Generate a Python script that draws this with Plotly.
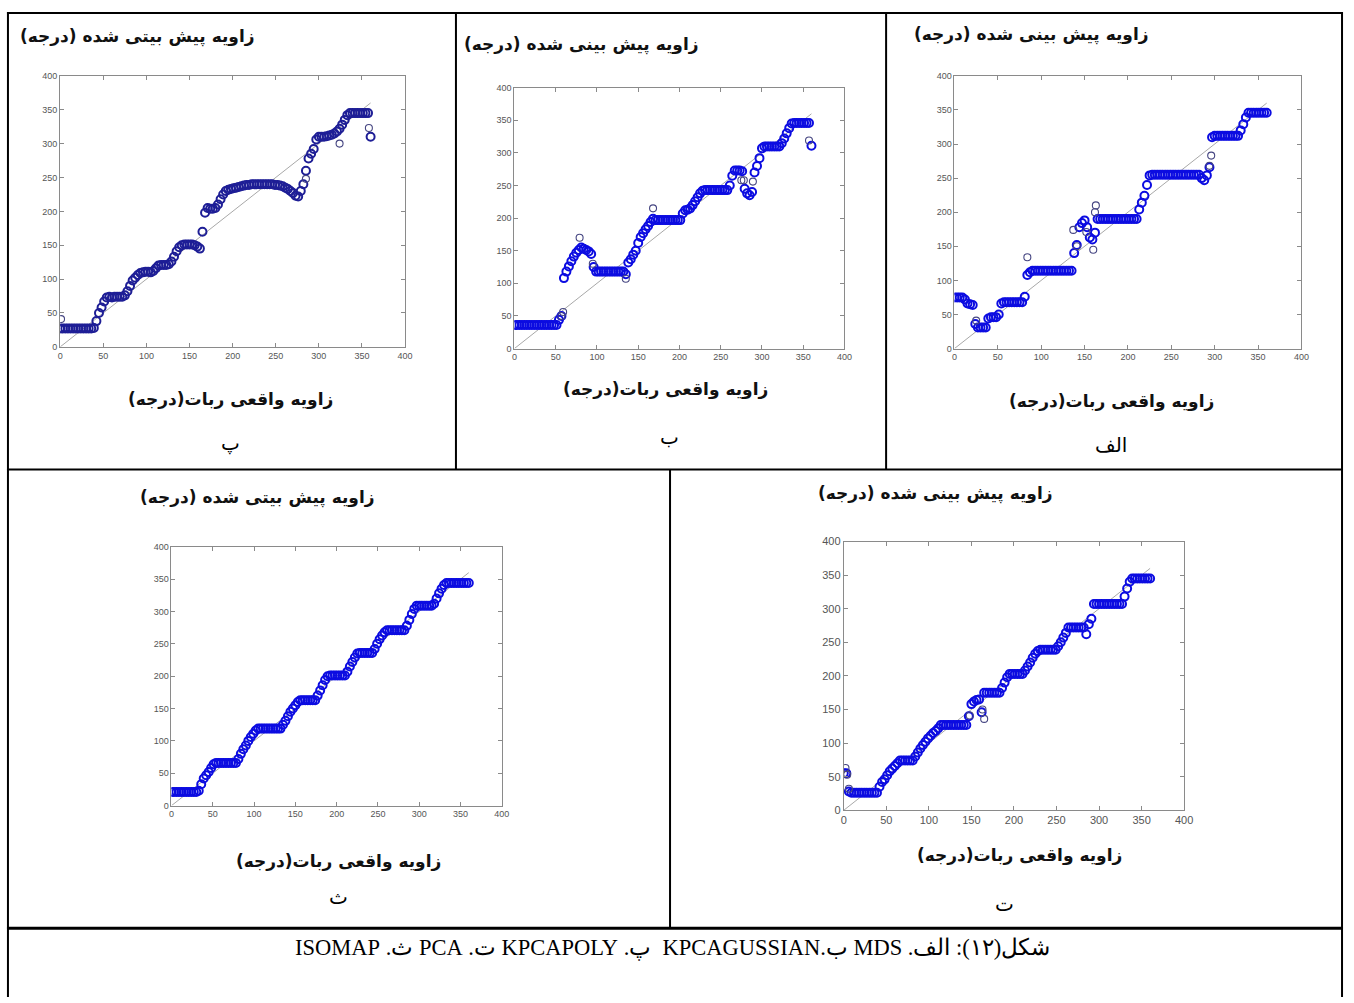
import plotly.graph_objects as go

W, H = 1354, 1003

# ---------------- data ----------------
true_angle = [0, 3, 6, 9, 12, 15, 18, 21, 24, 27, 30, 33, 36, 39, 42, 45, 48, 51, 54, 57,
              60, 63, 66, 69, 72, 75, 78, 81, 84, 87, 90, 93, 96, 99, 102, 105, 108, 111, 114, 117,
              120, 123, 126, 129, 132, 135, 138, 141, 144, 147, 150, 153, 156, 159, 162, 165, 168, 171, 174, 177,
              180, 183, 186, 189, 192, 195, 198, 201, 204, 207, 210, 213, 216, 219, 222, 225, 228, 231, 234, 237,
              240, 243, 246, 249, 252, 255, 258, 261, 264, 267, 270, 273, 276, 279, 282, 285, 288, 291, 294, 297,
              300, 303, 306, 309, 312, 315, 318, 321, 324, 327, 330, 333, 336, 339, 342, 345, 348, 351, 354, 357,
              360]

# panel پ  KPCAPOLY
pred_kpcapoly = [27, 27, 27, 27, 27, 27, 27, 27, 27, 27,
                 27, 27, 27, 28, 38, 50, 58, 67, 73, 74,
                 73, 74, 74, 74, 74, 76, 82, 90, 98, 102,
                 106, 109, 110, 111, 111, 110, 112, 116, 120, 121,
                 121, 121, 122, 126, 133, 141, 147, 150, 151, 151,
                 151, 151, 150, 148, 145, 170, 198, 205, 204, 204,
                 205, 210, 218, 225, 230, 232, 233, 234, 235, 236,
                 237, 238, 239, 239, 240, 240, 240, 240, 240, 240,
                 240, 240, 240, 239, 239, 238, 237, 235, 233, 230,
                 227, 223, 222, 230, 240, 260, 278, 285, 292, 306,
                 310, 310, 310, 311, 312, 313, 315, 318, 322, 328,
                 335, 342, 345, 345, 345, 345, 345, 345, 345, 345,
                 310]
out_x_kpcapoly = [1, 285, 324, 358]
out_y_kpcapoly = [41, 248, 300, 323]

# panel ب  KPCAGUSSIAN
pred_kpcagauss = [36, 36, 36, 36, 36, 36, 36, 36, 36, 36,
                  36, 36, 36, 36, 36, 36, 36, 36, 44, 50,
                  108, 118, 126, 134, 141, 147, 151, 155, 153, 151,
                  149, 145, 125, 118, 118, 118, 118, 118, 118, 118,
                  118, 118, 118, 118, 118, 114, 132, 137, 144, 150,
                  162, 171, 177, 183, 188, 194, 199, 197, 197, 197,
                  197, 197, 197, 197, 197, 197, 197, 197, 207, 212,
                  213, 215, 220, 226, 232, 238, 242, 243, 243, 243,
                  243, 243, 243, 243, 243, 243, 243, 250, 265, 273,
                  273, 273, 272, 245, 238, 235, 240, 270, 280, 292,
                  307, 310, 310, 310, 310, 310, 310, 310, 315, 322,
                  330, 338, 345, 346, 346, 346, 346, 346, 346, 346,
                  311]
out_x_kpcagauss = [57, 59, 79, 95, 135, 168, 275, 278, 289, 357]
out_y_kpcagauss = [50, 56, 170, 130, 107, 215, 258, 258, 256, 319]

# panel الف  MDS
pred_mds = [75, 75, 75, 75, 72, 66, 65, 64, 36, 31,
            31, 31, 31, 44, 46, 46, 46, 50, 66, 68,
            68, 68, 68, 68, 68, 68, 68, 76, 108, 112,
            114, 114, 114, 114, 114, 114, 114, 114, 114, 114,
            114, 114, 114, 114, 114, 114, 140, 152, 178, 184,
            188, 178, 163, 160, 170, 190, 190, 190, 190, 190,
            190, 190, 190, 190, 190, 190, 190, 190, 190, 190,
            190, 204, 214, 224, 240, 254, 255, 255, 255, 255,
            255, 255, 255, 255, 255, 255, 255, 255, 255, 255,
            255, 255, 255, 255, 255, 250, 247, 254, 266, 310,
            312, 312, 312, 312, 312, 312, 312, 312, 312, 312,
            320, 329, 339, 346, 346, 346, 346, 346, 346, 346,
            346]
out_x_mds = [25, 84, 137, 141, 152, 160, 162, 163, 294, 296]
out_y_mds = [41, 134, 174, 150, 171, 145, 200, 210, 268, 283]

# panel ث  ISOMAP
pred_isomap = [21, 21, 21, 21, 21, 21, 21, 21, 21, 21,
               21, 23, 33, 42, 47, 52, 58, 64, 66, 66,
               66, 66, 66, 66, 66, 66, 66, 72, 80, 87,
               93, 100, 106, 111, 116, 119, 119, 119, 119, 119,
               119, 119, 119, 119, 119, 125, 131, 138, 145, 150,
               155, 160, 163, 163, 163, 163, 163, 163, 163, 170,
               178, 186, 194, 200, 201, 201, 201, 201, 201, 201,
               201, 207, 215, 222, 229, 235, 236, 236, 236, 236,
               236, 236, 242, 250, 257, 263, 268, 271, 271, 271,
               271, 271, 271, 271, 271, 278, 287, 296, 304, 309,
               309, 309, 309, 309, 309, 309, 312, 320, 328, 335,
               341, 344, 344, 344, 344, 344, 344, 344, 344, 344,
               344]
out_x_isomap = []
out_y_isomap = []

# panel ت  PCA
pred_pca = [55, 55, 28, 26, 26, 26, 26, 26, 26, 26,
            26, 26, 26, 26, 35, 42, 46, 52, 58, 62,
            66, 70, 74, 74, 74, 74, 74, 74, 80, 86,
            92, 97, 102, 107, 111, 115, 118, 122, 127, 127,
            127, 127, 127, 127, 127, 127, 127, 127, 127, 140,
            158, 162, 164, 165, 146, 175, 175, 175, 175, 175,
            175, 175, 182, 190, 198, 203, 203, 203, 203, 203,
            203, 208, 214, 220, 227, 233, 237, 239, 239, 239,
            239, 239, 239, 239, 244, 250, 257, 264, 272, 272,
            272, 272, 272, 272, 272, 262, 277, 285, 307, 307,
            307, 307, 307, 307, 307, 307, 307, 307, 307, 307,
            318, 330, 340, 345, 345, 345, 345, 345, 345, 345,
            345]
out_x_pca = [2, 4, 6, 148, 163, 165]
out_y_pca = [63, 53, 32, 141, 150, 136]

ideal_x = [0, 360]
ideal_y = [0, 360]
tick_vals = [0, 50, 100, 150, 200, 250, 300, 350, 400]
tick_text = ["0", "50", "100", "150", "200", "250", "300", "350", "400"]

y_title_poly = "زاویه پیش بیتی شده (درجه)"
y_title = "زاویه پیش بینی شده (درجه)"
x_title = "زاویه واقعی ربات(درجه)"
caption = "شکل(۱۲): الف. MDS ب.KPCAGUSSIAN  پ. KPCAPOLY ت. PCA ث. ISOMAP"

RLE, PDF = "\u202b", "\u202c"


def rtl(s):
    return RLE + s + PDF


def px(x):
    return x / W


def py(y):
    return 1 - y / H


panels = [
    dict(name="پ", box=(57.7, 70.7, 405.7, 345.0), y=pred_kpcapoly, ox=out_x_kpcapoly, oy=out_y_kpcapoly,
         ytitle=y_title_poly, tpos=(136, 31), xpos=(230, 398), lpos=(230, 442), tick=9,
         color="rgb(30,30,150)"),
    dict(name="ب", box=(516.0, 82.7, 849.0, 346.7), y=pred_kpcagauss, ox=out_x_kpcagauss, oy=out_y_kpcagauss,
         ytitle=y_title, tpos=(584, 39), xpos=(668, 388), lpos=(672, 436), tick=9,
         color="rgb(12,12,225)"),
    dict(name="الف", box=(960.0, 70.7, 1310.0, 346.7), y=pred_mds, ox=out_x_mds, oy=out_y_mds,
         ytitle=y_title, tpos=(1038, 29), xpos=(1118, 400), lpos=(1118, 444), tick=9,
         color="rgb(12,12,225)"),
    dict(name="ث", box=(170.0, 547.3, 503.3, 809.3), y=pred_isomap, ox=out_x_isomap, oy=out_y_isomap,
         ytitle=y_title_poly, tpos=(257, 497), xpos=(338, 866), lpos=(338, 902), tick=9,
         color="rgb(12,12,225)"),
    dict(name="ت", box=(848.3, 542.0, 1191.7, 814.0), y=pred_pca, ox=out_x_pca, oy=out_y_pca,
         ytitle=y_title, tpos=(941, 493), xpos=(1026, 860), lpos=(1010, 909), tick=11,
         color="rgb(12,12,225)"),
]

fig = go.Figure()
annotations = []
layout_axes = {}

for i, p in enumerate(panels, start=1):
    xa = "x" if i == 1 else f"x{i}"
    ya = "y" if i == 1 else f"y{i}"
    x0, y0, x1, y1 = p["box"]
    fig.add_trace(go.Scatter(x=ideal_x, y=ideal_y, mode="lines", xaxis=xa, yaxis=ya,
                             line=dict(color="#a8a8a8", width=1), showlegend=False, hoverinfo="skip"))
    fig.add_trace(go.Scatter(x=true_angle, y=p["y"], mode="markers", xaxis=xa, yaxis=ya,
                             marker=dict(symbol="circle-open", size=8, color=p["color"],
                                         line=dict(width=2, color=p["color"])),
                             showlegend=False))
    if p["ox"]:
        fig.add_trace(go.Scatter(x=p["ox"], y=p["oy"], mode="markers", xaxis=xa, yaxis=ya,
                                 marker=dict(symbol="circle-open", size=7, color="rgb(70,70,130)",
                                             line=dict(width=1.1, color="rgb(70,70,130)")),
                                 showlegend=False))
    common = dict(range=[0, 400], tickvals=tick_vals, ticktext=tick_text, showgrid=False,
                  zeroline=False, showline=True, linecolor="#8a8a8a", linewidth=1,
                  mirror="ticks", ticks="inside", ticklen=4, tickcolor="#8a8a8a",
                  tickfont=dict(family="Liberation Sans", size=p["tick"], color="#555555"),
                  fixedrange=True)
    key_x = "xaxis" if i == 1 else f"xaxis{i}"
    key_y = "yaxis" if i == 1 else f"yaxis{i}"
    layout_axes[key_x] = dict(domain=[px(x0), px(x1)], anchor=ya, **common)
    layout_axes[key_y] = dict(domain=[py(y1), py(y0)], anchor=xa, **common)

    tx, ty = p["tpos"]
    annotations.append(dict(text="<b>" + rtl(p["ytitle"]) + "</b>", x=px(tx), y=py(ty),
                            xref="paper", yref="paper", showarrow=False, xanchor="center",
                            yanchor="middle",
                            font=dict(family="DejaVu Sans", size=17, color="#111111")))
    tx, ty = p["xpos"]
    annotations.append(dict(text="<b>" + rtl(x_title) + "</b>", x=px(tx), y=py(ty),
                            xref="paper", yref="paper", showarrow=False, xanchor="center",
                            yanchor="middle",
                            font=dict(family="DejaVu Sans", size=17, color="#111111")))
    tx, ty = p["lpos"]
    annotations.append(dict(text=rtl(p["name"]), x=px(tx), y=py(ty),
                            xref="paper", yref="paper", showarrow=False, xanchor="center",
                            yanchor="middle",
                            font=dict(family="DejaVu Sans", size=20, color="#000000")))

annotations.append(dict(text=rtl(caption), x=px(675), y=py(953), xref="paper", yref="paper",
                        showarrow=False, xanchor="center", yanchor="middle",
                        font=dict(family="Liberation Serif", size=22.5, color="#000000")))


def hline(y, xa, xb, w=2):
    return dict(type="line", xref="paper", yref="paper", x0=px(xa), x1=px(xb), y0=py(y), y1=py(y),
                line=dict(color="black", width=w))


def vline(x, ya, yb, w=2):
    return dict(type="line", xref="paper", yref="paper", x0=px(x), x1=px(x), y0=py(ya), y1=py(yb),
                line=dict(color="black", width=w))


shapes = [
    hline(7, 4, 1352),
    hline(469, 4, 1352),
    hline(933.5, 4, 1352, 3),
    vline(5, 6, 1003),
    vline(1351, 6, 1003),
    vline(457, 7, 469),
    vline(891, 7, 469),
    vline(673, 469, 933),
]

fig.update_layout(width=W, height=H, margin=dict(l=0, r=0, t=0, b=0),
                  paper_bgcolor="white", plot_bgcolor="white",
                  annotations=annotations, shapes=shapes, **layout_axes)

fig.write_html("out.html", config={"displayModeBar": False},
               post_script="document.body.style.margin='0';document.body.style.padding='0';"
                           "document.documentElement.style.overflow='hidden';")
